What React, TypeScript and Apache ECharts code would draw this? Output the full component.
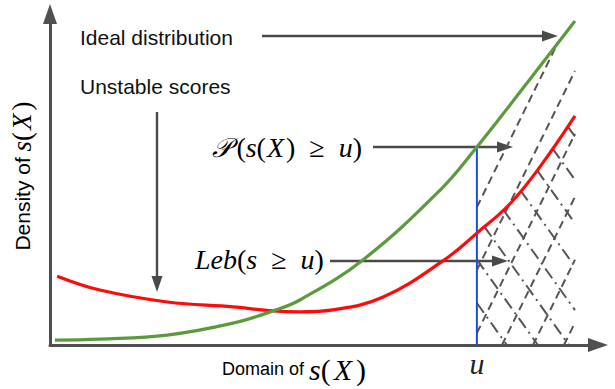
import React, { useEffect, useRef } from "react";
import * as echarts from "echarts";

// ---- data (domain 0..100, density 0..100) ----
const idealX = [0.9, 9.1, 21.4, 33.4, 40.7, 45.6, 57.1, 71.2, 77.9, 84.5, 95.8];
const idealY = [1.5, 1.8, 3.0, 6.6, 10.3, 13.6, 25.7, 46.8, 59.8, 73.7, 97.9];
const unstableX = [1.3, 9.1, 21.4, 33.4, 40.7, 45.6, 51.6, 60.8, 71.7, 77.9, 83.9, 89.4, 95.8];
const unstableY = [20.8, 16.6, 13.0, 11.5, 10.3, 10.0, 10.6, 14.5, 25.4, 33.8, 42.6, 53.8, 69.2];
const thresholdU = 77.9;
const idealAtU = 59.8;
const domainEnd = 95.8;

const GREEN = "#5b9b3d";
const RED = "#ff0a0a";
const BLUE = "#1b4fd8";
const AXIS = "#505050";
const ARROW = "#4a4a4a";
const SERIF = "'Liberation Serif', 'DejaVu Serif', serif";
const SANS = "'Liberation Sans', Arial, sans-serif";

function zip(xs: number[], ys: number[]) {
  return xs.map((x, i) => [x, ys[i]]);
}

function arrow(x1: number, y1: number, x2: number, y2: number, len = 16, half = 5.5) {
  const dx = x2 - x1, dy = y2 - y1;
  const d = Math.hypot(dx, dy);
  const ux = dx / d, uy = dy / d;
  const bx = x2 - ux * len, by = y2 - uy * len;
  const px = -uy, py = ux;
  return [
    { type: "line", shape: { x1, y1, x2: bx, y2: by }, style: { stroke: ARROW, lineWidth: 2.4 } },
    {
      type: "polygon",
      shape: { points: [[x2, y2], [bx + px * half, by + py * half], [bx - px * half, by - py * half]] },
      style: { fill: ARROW },
    },
  ];
}

function mathRich(size: number, xPad: number[]) {
  return {
    it: { fontFamily: SERIF, fontStyle: "italic", fontSize: size, color: "#222" },
    itX: { fontFamily: SERIF, fontStyle: "italic", fontSize: size, color: "#222", padding: xPad },
    rm: { fontFamily: SERIF, fontSize: size, color: "#222" },
    sc: { fontFamily: "'DejaVu Serif', 'Liberation Serif', serif", fontStyle: "italic", fontSize: size - 1, color: "#222" },
  };
}

export default function App() {
  const ref = useRef<HTMLDivElement>(null);
  useEffect(() => {
    if (!ref.current) return;
    const chart = echarts.init(ref.current, null, { renderer: "svg" });

    const interp = (pts: number[][], px: number) => {
      if (px <= pts[0][0]) return pts[0][1];
      for (let i = 0; i < pts.length - 1; i++) {
        const a = pts[i], b = pts[i + 1];
        if (px >= a[0] && px <= b[0]) {
          const t = (px - a[0]) / (b[0] - a[0] || 1);
          return a[1] + t * (b[1] - a[1]);
        }
      }
      return pts[pts.length - 1][1];
    };

    const renderHatch = (params: any, api: any) => {
      const g = idealX.map((x, i) => api.coord([x, idealY[i]]));
      const r = unstableX.map((x, i) => api.coord([x, unstableY[i]]));
      const base = api.coord([0, 0])[1];
      const x0 = api.coord([thresholdU, 0])[0];
      const x1 = api.coord([domainEnd, 0])[0];
      const children: any[] = [];
      const step = 31;
      // rising dashed lines under the ideal curve
      const kUp = 2.03;
      const bMin = x0 - (base - interp(g, x0)) / kUp;
      for (let b = x1 - 11; b > bMin; b -= step) {
        const yAt = (x: number) => base - (x - b) * kUp;
        const sx = Math.max(b, x0);
        let ex = x1;
        for (let x = sx; x <= x1; x += 0.25) {
          if (yAt(x) <= interp(g, x)) { ex = x; break; }
        }
        if (ex - sx < 1) continue;
        children.push({
          type: "line",
          shape: { x1: sx, y1: yAt(sx), x2: ex, y2: yAt(ex) },
          style: { stroke: "#555", lineWidth: 2, lineDash: [8, 5] },
        });
      }
      // falling dash-dot lines under the unstable curve
      const kDn = 1.4;
      const cMax = x1 + (base - interp(r, x1)) / kDn;
      for (let c = x0 - 1; c < cMax; c += step) {
        const yAt = (x: number) => base - (c - x) * kDn;
        const lim = Math.min(c, x1);
        let sx: number | null = null;
        for (let x = x0; x <= lim; x += 0.25) {
          if (yAt(x) >= interp(r, x)) { sx = x; break; }
        }
        if (sx === null || lim - sx < 1) continue;
        children.push({
          type: "line",
          shape: { x1: sx, y1: yAt(sx), x2: lim, y2: yAt(lim) },
          style: { stroke: "#555", lineWidth: 2, lineDash: [12, 5, 2, 5] },
        });
      }
      return { type: "group", children };
    };

    chart.setOption({
      animation: false,
      grid: { left: 50, right: 17, top: 14, bottom: 44, outerBoundsMode: "none" },
      xAxis: {
        type: "value", min: 0, max: 100,
        axisLine: { show: true, symbol: ["none", "triangle"], symbolSize: [14, 20], lineStyle: { color: AXIS, width: 3 } },
        axisTick: { show: false }, axisLabel: { show: false }, splitLine: { show: false },
      },
      yAxis: {
        type: "value", min: 0, max: 100,
        axisLine: { show: true, symbol: ["none", "triangle"], symbolSize: [14, 20], lineStyle: { color: AXIS, width: 3 } },
        axisTick: { show: false }, axisLabel: { show: false }, splitLine: { show: false },
      },
      series: [
        {
          type: "custom", name: "hatch", renderItem: renderHatch, data: [[thresholdU, 0]], z: 1, silent: true,
        },
        {
          type: "line", name: "threshold",
          data: [
            { value: [thresholdU, 0], label: { show: true, position: "bottom", distance: 3, formatter: "u",
              fontFamily: SERIF, fontStyle: "italic", fontSize: 30, color: "#222" } },
            [thresholdU, idealAtU],
          ],
          symbol: "circle", symbolSize: 1, itemStyle: { color: "transparent" },
          lineStyle: { color: BLUE, width: 2 }, z: 3,
        },
        {
          type: "line", name: "Unstable scores", data: zip(unstableX, unstableY), smooth: 0.4,
          symbol: "none", lineStyle: { color: RED, width: 3.2 }, z: 4,
        },
        {
          type: "line", name: "Ideal distribution", data: zip(idealX, idealY), smooth: 0.4,
          symbol: "none", lineStyle: { color: GREEN, width: 3.2 }, z: 4,
        },
      ],
      graphic: [
        { type: "text", style: { text: "Ideal distribution", x: 80, y: 37, verticalAlign: "middle", font: `21px ${SANS}`, fill: "#111" } },
        { type: "text", style: { text: "Unstable scores", x: 80, y: 86, verticalAlign: "middle", font: `21px ${SANS}`, fill: "#111" } },
        ...arrow(262, 36, 558, 36),
        ...arrow(157, 112, 157, 292),
        ...arrow(373, 147, 513, 147),
        ...arrow(330, 261, 508, 261),
        {
          type: "text",
          style: {
            text: "{sc|𝒫\u2009}{rm|(}{it|s}{rm|(}{itX|X}{rm|)\u2002≥\u2002}{it|u}{rm|)}",
            x: 212, y: 147, verticalAlign: "middle", rich: mathRich(28, [0, 2, 0, 1]),
          },
        },
        {
          type: "text",
          style: {
            text: "{it|Leb}{rm|(}{it|s}{rm|\u2002≥\u2002}{it|u}{rm|)}",
            x: 195, y: 259, verticalAlign: "middle", rich: mathRich(28, [0, 0, 0, 0]),
          },
        },
        {
          type: "text",
          style: {
            text: "{sans|Domain of }{it|s}{rm|(}{itX|X}{rm|)}",
            x: 222, y: 369, verticalAlign: "middle",
            rich: { ...mathRich(30, [0, 4, 0, 3]), sans: { fontFamily: SANS, fontSize: 18, color: "#111" } },
          },
        },
        {
          type: "text",
          x: 22, y: 176, rotation: Math.PI / 2,
          style: {
            text: "{sans|Density of }{it|s}{rm|(}{itX|X}{rm|)}",
            x: 0, y: 0, align: "center", verticalAlign: "middle",
            rich: { ...mathRich(27, [0, 3, 0, 2]), sans: { fontFamily: SANS, fontSize: 21, color: "#111" } },
          },
        },
      ],
    });
    return () => chart.dispose();
  }, []);
  return <div ref={ref} style={{ width: 615, height: 389, position: "absolute", left: 0, top: 0, background: "#fff" }} />;
}
